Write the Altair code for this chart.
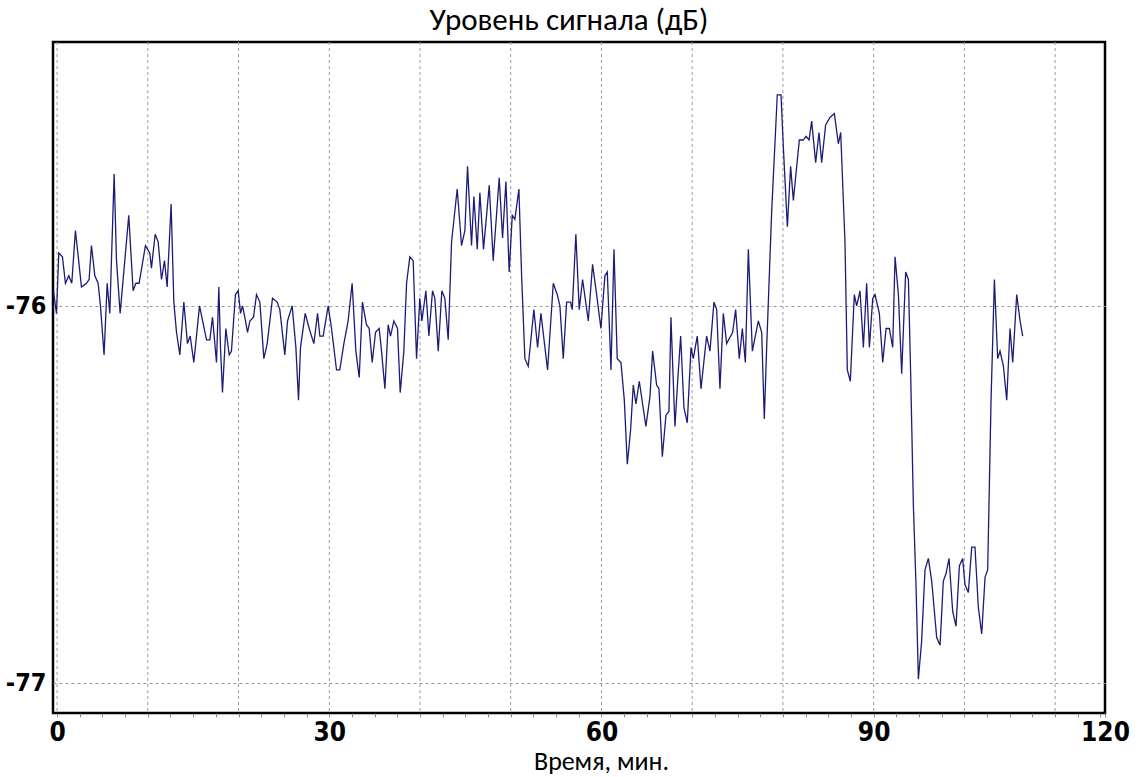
import altair as alt
import pandas as pd

# ---- data (time in minutes, level in dB) ----
T1 = [-0.40, -0.07, 0.19, 0.59, 0.92, 1.29, 1.62, 2.02, 2.69, 3.24,
      3.53, 3.79, 4.16, 4.52, 4.78, 5.18, 5.52, 5.81, 6.29, 6.55,
      6.95, 7.90, 8.38, 8.68, 9.04, 9.74, 10.22, 10.40, 10.81, 11.14,
      11.51, 11.84, 12.13, 12.57, 12.87, 13.16, 13.53, 13.97, 14.37, 14.67,
      15.07, 15.70, 16.47, 16.84, 17.13, 17.57, 17.83, 18.01, 18.23, 18.60,
      18.97, 19.22, 19.66, 19.96, 20.22, 20.44, 20.69, 20.99, 21.25, 21.65,
      21.98, 22.35, 22.79, 23.16, 23.74, 24.26, 24.55, 25.10, 25.40, 25.91,
      26.32, 26.61, 26.83, 27.35, 27.79, 28.30, 28.71, 28.96, 29.33, 29.88]
V1 = [-75.96, -76.02, -75.86, -75.87, -75.94, -75.92, -75.94, -75.80, -75.95, -75.94,
      -75.93, -75.84, -75.92, -75.94, -76.00, -76.13, -75.94, -76.02, -75.65, -75.88,
      -76.02, -75.76, -75.96, -75.94, -75.94, -75.84, -75.86, -75.90, -75.81, -75.83,
      -75.93, -75.88, -75.95, -75.73, -75.99, -76.07, -76.13, -75.99, -76.10, -76.08,
      -76.15, -76.00, -76.09, -76.09, -76.03, -76.15, -75.95, -76.11, -76.23, -76.06,
      -76.13, -76.12, -75.97, -75.96, -76.02, -76.00, -76.03, -76.07, -76.04, -76.03,
      -75.97, -75.99, -76.14, -76.10, -75.98, -75.99, -76.01, -76.13, -76.04, -76.00,
      -76.11, -76.25, -76.11, -76.02, -76.06, -76.10, -76.02, -76.08, -76.08, -76.00]

T2 = [30.25, 30.80, 31.16, 31.61, 32.08, 32.52, 32.93, 33.30, 33.66, 34.10,
      34.40, 34.73, 35.10, 35.50, 35.76, 36.13, 36.49, 36.75, 37.12, 37.52,
      37.82, 38.22, 38.52, 38.88, 39.25, 39.62, 39.98, 40.21, 40.65, 40.98,
      41.38, 41.64, 42.01, 42.41, 42.74, 43.11, 43.48, 44.10, 44.58, 44.95,
      45.24, 45.68, 45.94, 46.31, 46.60, 47.00, 47.63, 48.07, 48.73, 49.10,
      49.47, 49.83, 50.17, 50.46, 50.90, 51.20, 51.56, 51.93, 52.55, 52.96,
      53.33, 54.06, 54.69, 55.13, 55.42, 55.79, 56.16, 56.60, 56.78, 57.18,
      57.55, 57.92, 58.55, 59.02]
V2 = [-76.06, -76.17, -76.17, -76.10, -76.04, -75.94, -76.12, -76.19, -75.99, -76.05,
      -76.06, -76.15, -76.07, -76.06, -76.12, -76.22, -76.05, -76.08, -76.04, -76.06,
      -76.23, -76.12, -75.94, -75.87, -75.88, -76.14, -75.98, -76.04, -75.96, -76.08,
      -75.96, -75.98, -76.12, -75.96, -75.98, -76.09, -75.83, -75.69, -75.84, -75.80,
      -75.63, -75.84, -75.71, -75.85, -75.70, -75.85, -75.68, -75.88, -75.66, -75.82,
      -75.67, -75.91, -75.76, -75.77, -75.69, -75.92, -76.14, -76.16, -76.01, -76.11,
      -76.02, -76.17, -75.94, -75.97, -76.00, -76.14, -75.99, -75.99, -76.01, -75.81,
      -76.01, -75.93, -76.04, -75.89]

T3 = [59.47, 59.94, 60.38, 60.64, 60.82, 61.05, 61.38, 61.74, 62.15, 62.52,
      62.85, 63.21, 63.51, 63.80, 64.17, 64.90, 65.35, 65.64, 66.08, 66.34,
      66.71, 67.11, 67.44, 67.66, 68.10, 68.40, 68.73, 69.09, 69.46, 69.87,
      70.12, 70.56, 70.97, 71.59, 71.96, 72.40, 72.70, 73.06, 73.43, 73.80,
      74.46, 74.79, 75.19, 75.53, 75.86, 76.19, 76.63, 77.29, 77.66, 77.95,
      78.21, 78.76, 79.38, 79.79, 80.05, 80.49, 80.85, 81.15, 81.81, 82.25,
      82.55, 82.88, 83.17, 83.61, 83.98, 84.27, 84.71, 85.19, 85.67, 86.11,
      86.37, 86.84, 87.10, 87.43, 87.87, 88.13, 88.50, 88.87, 89.23, 89.53]
V3 = [-75.97, -76.06, -75.92, -75.91, -76.02, -76.17, -75.85, -76.14, -76.15, -76.25,
      -76.42, -76.33, -76.21, -76.26, -76.20, -76.32, -76.24, -76.12, -76.21, -76.22,
      -76.40, -76.29, -76.28, -76.03, -76.32, -76.20, -76.08, -76.27, -76.31, -76.11,
      -76.14, -76.08, -76.22, -76.08, -76.12, -75.99, -76.01, -76.22, -76.02, -76.10,
      -76.07, -76.01, -76.14, -76.06, -76.15, -75.85, -76.12, -76.04, -76.07, -76.30,
      -76.11, -75.75, -75.44, -75.44, -75.58, -75.79, -75.63, -75.72, -75.56, -75.56,
      -75.55, -75.56, -75.51, -75.62, -75.54, -75.62, -75.52, -75.50, -75.49, -75.57,
      -75.54, -75.83, -76.17, -76.20, -75.97, -76.00, -75.96, -76.11, -75.94, -76.11]

T4 = [89.90, 90.15, 90.63, 91.00, 91.37, 91.73, 92.10, 92.36, 92.73, 93.09,
      93.53, 93.83, 94.08, 94.38, 94.67, 94.93, 95.29, 95.66, 96.03, 96.40,
      96.95, 97.32, 97.68, 97.98, 98.31, 98.71, 99.08, 99.45, 99.81, 100.07,
      100.44, 100.81, 101.17, 101.54, 101.91, 102.28, 102.57, 102.94, 103.31, 103.67,
      103.93, 104.30, 104.67, 105.03, 105.33, 105.77, 106.14, 106.43]
V4 = [-75.98, -75.97, -76.02, -76.15, -76.06, -76.06, -76.11, -75.87, -75.97, -76.18,
      -75.91, -75.93, -76.18, -76.53, -76.74, -76.99, -76.89, -76.70, -76.67, -76.73,
      -76.88, -76.90, -76.73, -76.71, -76.67, -76.81, -76.85, -76.69, -76.67, -76.74,
      -76.76, -76.64, -76.64, -76.80, -76.87, -76.72, -76.70, -76.25, -75.93, -76.14,
      -76.12, -76.16, -76.25, -76.06, -76.15, -75.97, -76.04, -76.08]

GRID_X = [0, 10, 20, 30, 40, 50, 60, 70, 80, 90, 100, 110]
MINOR_TICKS = [i * 2.5 for i in range(47)] + [115.5]
Y_TICKS = [-76, -77]
X_DOMAIN = [-0.45, 115.5]
Y_DOMAIN = [-77.08, -75.30]

TITLE = "Уровень сигнала (дБ)"
X_TITLE = "Время, мин."

time = T1 + T2 + T3 + T4
level = V1 + V2 + V3 + V4
df = pd.DataFrame({"t": time, "v": level})
grid_df = pd.DataFrame({"g": GRID_X})

LABEL_FONT = "Liberation Sans Narrow, Arial Narrow, DejaVu Sans Condensed, sans-serif"
TEXT_FONT = "Carlito, Calibri, Lato, sans-serif"

xscale = alt.Scale(domain=X_DOMAIN, nice=False, zero=False)
yscale = alt.Scale(domain=Y_DOMAIN, nice=False, zero=False)

x_axis = alt.Axis(
    values=MINOR_TICKS,
    labelExpr="datum.value > 115 ? '120' : (datum.value % 30 === 0 ? datum.label : '')",
    grid=False,
    domain=False,
    tickSize=4,
    tickColor="#888888",
    labelFont=LABEL_FONT,
    labelFontSize=26,
    labelFontWeight="bold",
    labelColor="black",
    labelPadding=2,
    labelFlush=False,
    labelOverlap=False,
    title=X_TITLE,
    titleFont=TEXT_FONT,
    titleFontSize=26,
    titleFontWeight="normal",
    titleColor="black",
    titleX=548,
    titleY=56,
    titleBaseline="alphabetic",
)

grid = alt.Chart(grid_df).mark_rule(
    color="#9a9a9a", strokeDash=[3, 3], strokeWidth=1
).encode(x=alt.X("g:Q", scale=xscale, axis=x_axis))

line = alt.Chart(df).mark_line(color="#1c1c78", strokeWidth=1.3).encode(
    x=alt.X("t:Q", scale=xscale, axis=x_axis),
    y=alt.Y(
        "v:Q",
        scale=yscale,
        axis=alt.Axis(
            values=Y_TICKS,
            labelExpr="'' + datum.value",
            grid=True,
            gridColor="#9a9a9a",
            gridDash=[3, 3],
            gridWidth=1,
            domain=False,
            ticks=False,
            labelFont=LABEL_FONT,
            labelFontSize=25,
            labelFontWeight="bold",
            labelColor="black",
            labelPadding=7,
            title=None,
        ),
    ),
)

chart = alt.layer(grid, line).properties(
    width=1052,
    height=671,
    autosize=alt.AutoSizeParams(type="none"),
    padding={"left": 53, "top": 42, "right": 37, "bottom": 64},
    background="white",
    title=alt.TitleParams(
        TITLE,
        font=TEXT_FONT,
        fontSize=31,
        fontWeight="normal",
        color="black",
        anchor="middle",
        offset=5,
        dx=-10,
    ),
).configure_view(stroke="black", strokeWidth=2.5)

chart.save("out.html", embed_options={"renderer": "svg", "actions": False})
